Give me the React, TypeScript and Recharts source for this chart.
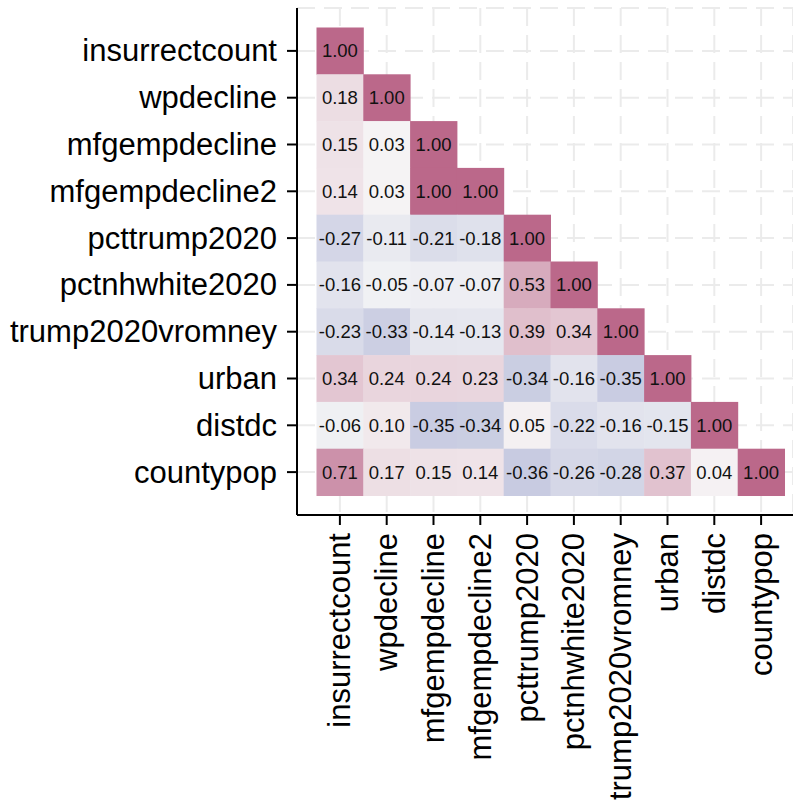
import { CartesianGrid, Scatter, ScatterChart, XAxis, YAxis } from 'recharts';

const variables = [
  'insurrectcount',
  'wpdecline',
  'mfgempdecline',
  'mfgempdecline2',
  'pcttrump2020',
  'pctnhwhite2020',
  'trump2020vromney',
  'urban',
  'distdc',
  'countypop',
];

// lower triangle, one row per variable (columns follow the same order)
const rowInsurrect = [1.0];
const rowWpdecline = [0.18, 1.0];
const rowMfg = [0.15, 0.03, 1.0];
const rowMfg2 = [0.14, 0.03, 1.0, 1.0];
const rowTrump = [-0.27, -0.11, -0.21, -0.18, 1.0];
const rowWhite = [-0.16, -0.05, -0.07, -0.07, 0.53, 1.0];
const rowRomney = [-0.23, -0.33, -0.14, -0.13, 0.39, 0.34, 1.0];
const rowUrban = [0.34, 0.24, 0.24, 0.23, -0.34, -0.16, -0.35, 1.0];
const rowDistdc = [-0.06, 0.1, -0.35, -0.34, 0.05, -0.22, -0.16, -0.15, 1.0];
const rowCountypop = [0.71, 0.17, 0.15, 0.14, -0.36, -0.26, -0.28, 0.37, 0.04, 1.0];

const corrRows = [
  rowInsurrect,
  rowWpdecline,
  rowMfg,
  rowMfg2,
  rowTrump,
  rowWhite,
  rowRomney,
  rowUrban,
  rowDistdc,
  rowCountypop,
];

const cells = corrRows.flatMap((row, i) => row.map((value, j) => ({ x: j + 1, y: i + 1, value })));
const ticks = variables.map((_, i) => i + 1);

const W = 793;
const H = 802;
const Y_AXIS_W = 297;
const X_AXIS_H = 287;
const TOP = 8;
const EXPAND = 0.9165;
const Y_DOMAIN: [number, number] = [1 - EXPAND, variables.length + EXPAND];
const UNIT = (H - TOP - X_AXIS_H) / (Y_DOMAIN[1] - Y_DOMAIN[0]);
const X_DOMAIN: [number, number] = [1 - EXPAND, 1 - EXPAND + (W - Y_AXIS_W) / UNIT];

const FONT = '"Liberation Sans", Arial, Helvetica, sans-serif';

const MID = [247, 247, 247];
const HIGH = [187, 104, 138];
const LOW = [116, 125, 186];

function fillFor(v: number) {
  const end = v >= 0 ? HIGH : LOW;
  const t = Math.min(1, Math.abs(v));
  const c = MID.map((m, k) => Math.round(m + (end[k] - m) * t));
  return `rgb(${c[0]},${c[1]},${c[2]})`;
}

function CellShape(props: any) {
  const { cx, cy, payload } = props;
  if (cx == null || cy == null) return null;
  return (
    <g>
      <rect x={cx - UNIT / 2} y={cy - UNIT / 2} width={UNIT + 0.5} height={UNIT + 0.5} fill={fillFor(payload.value)} />
      <text x={cx} y={cy} textAnchor="middle" dominantBaseline="central" fontSize={18.5} fontFamily={FONT} fill="#111">
        {payload.value.toFixed(2)}
      </text>
    </g>
  );
}

function XTick(props: any) {
  const { x, y, payload } = props;
  return (
    <text
      transform={`translate(${x},${y}) rotate(-90)`}
      textAnchor="end"
      dominantBaseline="central"
      fontSize={31}
      fontFamily={FONT}
      fill="#000"
    >
      {variables[payload.value - 1]}
    </text>
  );
}

function YTick(props: any) {
  const { x, y, payload } = props;
  return (
    <text x={x} y={y} textAnchor="end" dominantBaseline="central" fontSize={31} fontFamily={FONT} fill="#000">
      {variables[payload.value - 1]}
    </text>
  );
}

export default function App() {
  return (
    <div style={{ position: 'absolute', left: 0, top: 0, width: W, height: H, background: '#fff' }}>
      <ScatterChart width={W} height={H} margin={{ top: TOP, right: 0, bottom: 0, left: 0 }}>
        <CartesianGrid stroke="#ebebeb" strokeWidth={2} strokeDasharray="18 9" />
        <XAxis
          type="number"
          dataKey="x"
          domain={X_DOMAIN}
          ticks={ticks}
          interval={0}
          allowDataOverflow
          height={X_AXIS_H}
          tickSize={10}
          tickMargin={8}
          tick={<XTick />}
          axisLine={{ stroke: '#000', strokeWidth: 2 }}
          tickLine={{ stroke: '#000', strokeWidth: 2 }}
        />
        <YAxis
          type="number"
          dataKey="y"
          domain={Y_DOMAIN}
          ticks={ticks}
          interval={0}
          reversed
          allowDataOverflow
          width={Y_AXIS_W}
          tickSize={10}
          tickMargin={10}
          tick={<YTick />}
          axisLine={{ stroke: '#000', strokeWidth: 2 }}
          tickLine={{ stroke: '#000', strokeWidth: 2 }}
        />
        <Scatter data={cells} shape={<CellShape />} isAnimationActive={false} />
      </ScatterChart>
    </div>
  );
}
